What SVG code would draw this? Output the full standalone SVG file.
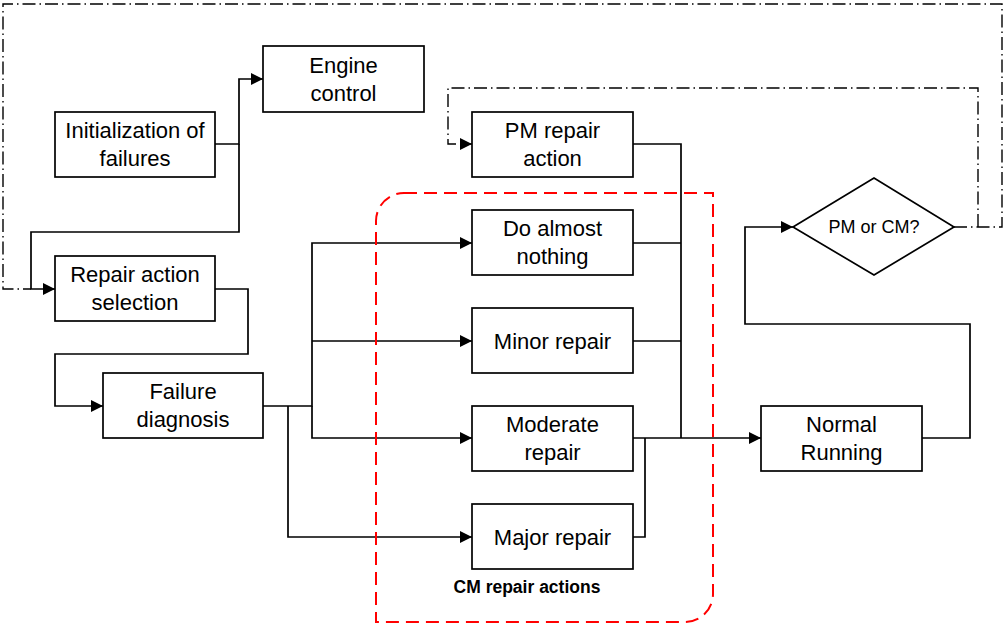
<svg xmlns="http://www.w3.org/2000/svg" width="1006" height="625" viewBox="0 0 1006 625">
<style>
.box{fill:#fff;stroke:#000;stroke-width:1.7}
.t{font-family:"Liberation Sans",Arial,sans-serif;font-size:22px;fill:#000;text-anchor:middle}
.ln{fill:none;stroke:#000;stroke-width:1.7}
.dd{fill:none;stroke:#000;stroke-width:1.4;stroke-dasharray:13 4 1.5 4}
</style>
<defs>
<marker id="ah" markerUnits="userSpaceOnUse" markerWidth="12" markerHeight="12" refX="12" refY="6" orient="auto">
<path d="M0,0 L12,6 L0,12 Z" fill="#000"/>
</marker>
</defs>
<rect width="1006" height="625" fill="#fff"/>
<g id="connectors">
<path class="ln" d="M215,144 H239 V79 H263" marker-end="url(#ah)"/>
<path class="ln" d="M239,144 V232 H31 V289 H55" marker-end="url(#ah)"/>
<path class="ln" d="M215,289 H248 V354 H55 V406 H103" marker-end="url(#ah)"/>
<path class="ln" d="M263,406 H312 V243 H472" marker-end="url(#ah)"/>
<path class="ln" d="M312,341 H472" marker-end="url(#ah)"/>
<path class="ln" d="M312,406 V438 H472" marker-end="url(#ah)"/>
<path class="ln" d="M288,406 V537 H472" marker-end="url(#ah)"/>
<path class="ln" d="M633,144 H681 V438"/>
<path class="ln" d="M633,243 H681"/>
<path class="ln" d="M633,341 H681"/>
<path class="ln" d="M633,438 H761" marker-end="url(#ah)"/>
<path class="ln" d="M633,537 H645 V438"/>
<path class="ln" d="M922,438 H970 V324 H745 V227 H793" marker-end="url(#ah)"/>
<path class="dd" d="M954,227 H1002 V4 H3 V289 H31"/>
<path class="dd" d="M978,227 V88 H448 V144 H472" marker-end="url(#ah)"/>
</g>
<g id="cm-group">
<path d="M404,193 H713 V594 A28,28 0 0 1 685,622 H376 V221 A28,28 0 0 1 404,193 Z" fill="none" stroke="#ff0000" stroke-width="2" stroke-dasharray="13 7"/>
<text x="527" y="593" font-family="Liberation Sans,Arial,sans-serif" font-size="17.5" font-weight="bold" text-anchor="middle">CM repair actions</text>
</g>
<g id="engine-control">
<rect class="box" x="263" y="46" width="161" height="66"/>
<text class="t" x="343.5" y="73">Engine</text>
<text class="t" x="343.5" y="101">control</text>
</g>
<g id="init-failures">
<rect class="box" x="55" y="112" width="160" height="65"/>
<text class="t" x="135" y="138">Initialization of</text>
<text class="t" x="135" y="166">failures</text>
</g>
<g id="repair-action-selection">
<rect class="box" x="55" y="256" width="160" height="65"/>
<text class="t" x="135" y="282">Repair action</text>
<text class="t" x="135" y="310">selection</text>
</g>
<g id="failure-diagnosis">
<rect class="box" x="103" y="373" width="160" height="65"/>
<text class="t" x="183" y="399">Failure</text>
<text class="t" x="183" y="427">diagnosis</text>
</g>
<g id="pm-repair">
<rect class="box" x="472" y="112" width="161" height="65"/>
<text class="t" x="552.5" y="138">PM repair</text>
<text class="t" x="552.5" y="166">action</text>
</g>
<g id="do-almost-nothing">
<rect class="box" x="472" y="210" width="161" height="65"/>
<text class="t" x="552.5" y="236">Do almost</text>
<text class="t" x="552.5" y="264">nothing</text>
</g>
<g id="minor-repair">
<rect class="box" x="472" y="308" width="161" height="65"/>
<text class="t" x="552.5" y="349">Minor repair</text>
</g>
<g id="moderate-repair">
<rect class="box" x="472" y="406" width="161" height="65"/>
<text class="t" x="552.5" y="432">Moderate</text>
<text class="t" x="552.5" y="460">repair</text>
</g>
<g id="major-repair">
<rect class="box" x="472" y="504" width="161" height="65"/>
<text class="t" x="552.5" y="545">Major repair</text>
</g>
<g id="normal-running">
<rect class="box" x="761" y="406" width="161" height="65"/>
<text class="t" x="841.5" y="432">Normal</text>
<text class="t" x="841.5" y="460">Running</text>
</g>
<g id="pm-or-cm">
<polygon class="box" points="793,227 874,178 954,227 874,275"/>
<text x="874" y="233" font-family="Liberation Sans,Arial,sans-serif" font-size="18" text-anchor="middle">PM or CM?</text>
</g>
</svg>
